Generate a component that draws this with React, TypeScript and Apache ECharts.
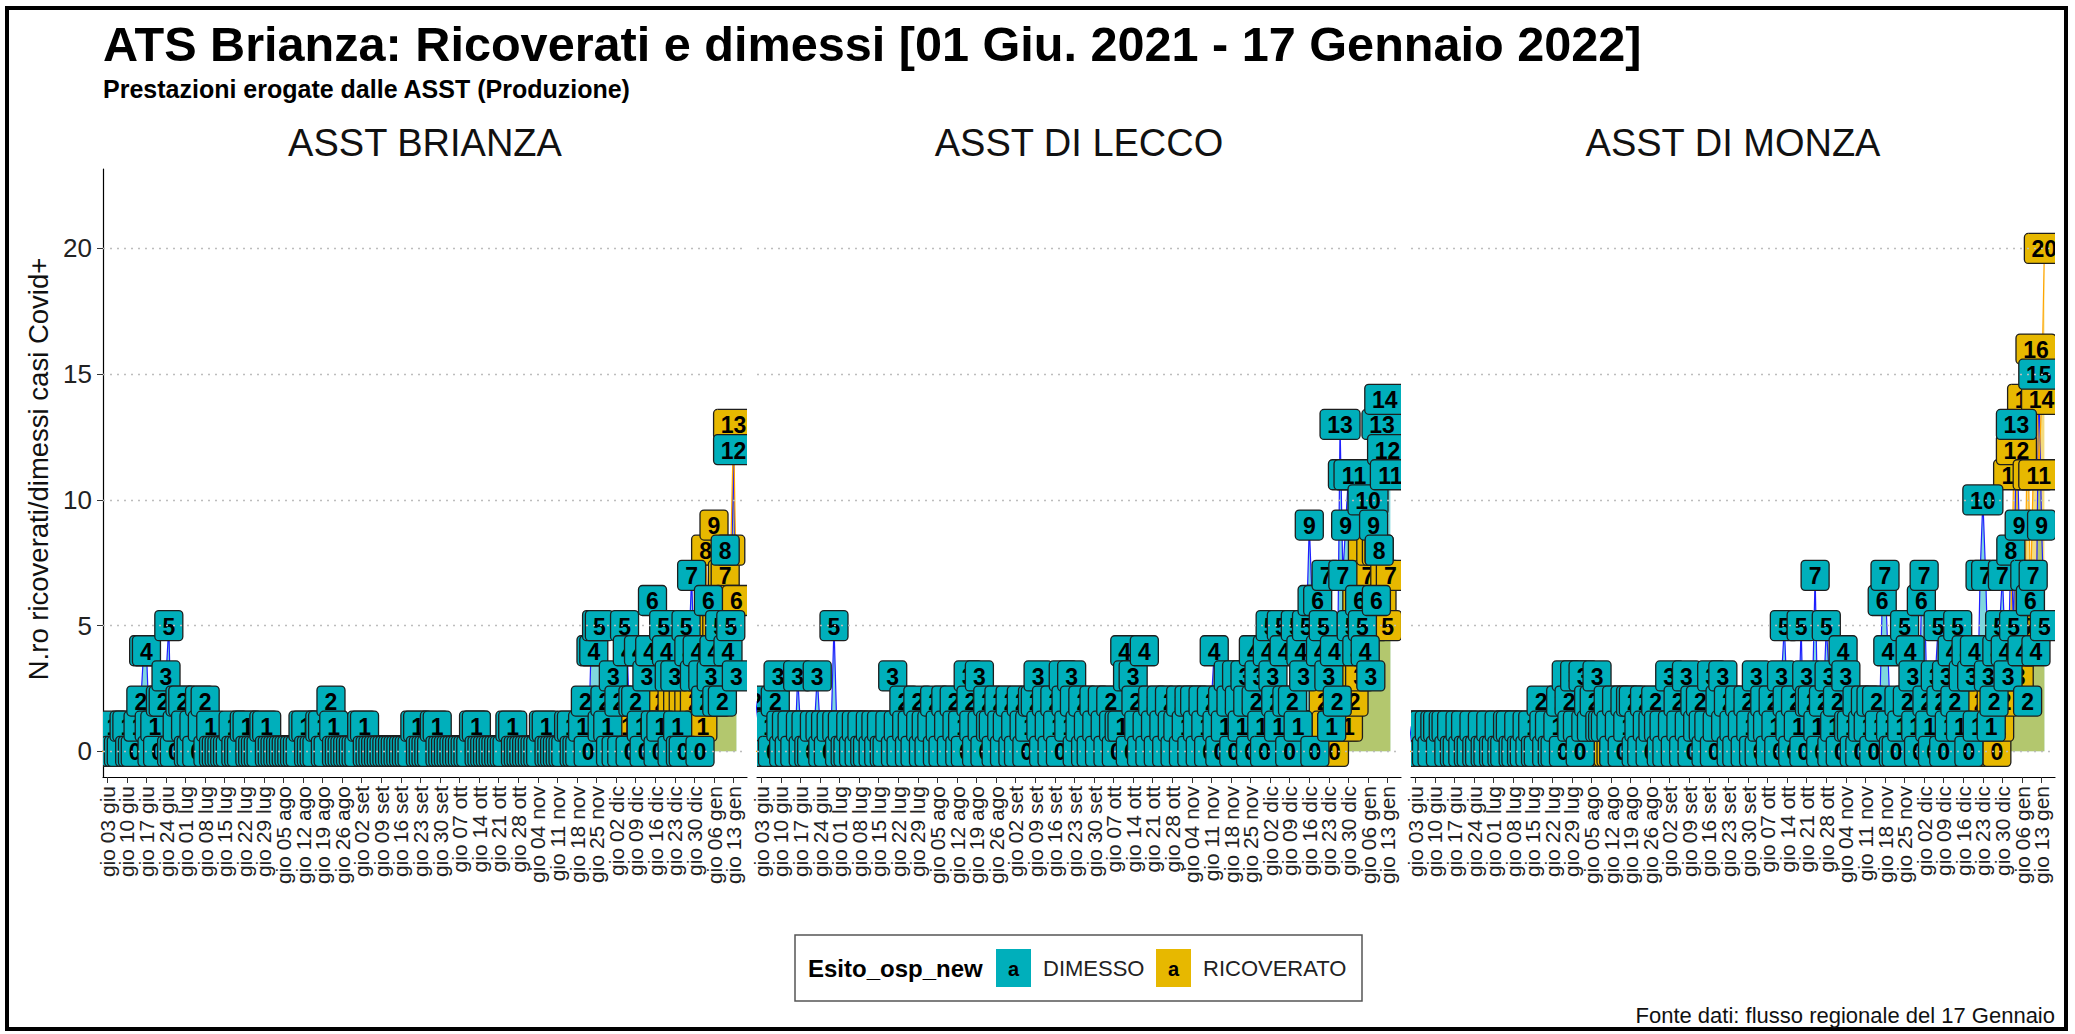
import React, { useEffect, useRef } from 'react';
import * as echarts from 'echarts';

// ---------------- DATA ----------------
// Daily counts, index 0 = 01 giu 2021 ... last = 14 gen 2022
const panelTitles = ['ASST BRIANZA', 'ASST DI LECCO', 'ASST DI MONZA'];
const seriesNames = ['DIMESSO', 'RICOVERATO'];

const tickDays = [2, 9, 16, 23, 30, 37, 44, 51, 58, 65, 72, 79, 86, 93, 100, 107, 114, 121, 128, 135, 142, 149, 156, 163, 170, 177, 184, 191, 198, 205, 212, 219, 226];
const tickLabels = [
  'gio 03 giu', 'gio 10 giu', 'gio 17 giu', 'gio 24 giu',
  'gio 01 lug', 'gio 08 lug', 'gio 15 lug', 'gio 22 lug', 'gio 29 lug',
  'gio 05 ago', 'gio 12 ago', 'gio 19 ago', 'gio 26 ago',
  'gio 02 set', 'gio 09 set', 'gio 16 set', 'gio 23 set', 'gio 30 set',
  'gio 07 ott', 'gio 14 ott', 'gio 21 ott', 'gio 28 ott',
  'gio 04 nov', 'gio 11 nov', 'gio 18 nov', 'gio 25 nov',
  'gio 02 dic', 'gio 09 dic', 'gio 16 dic', 'gio 23 dic', 'gio 30 dic',
  'gio 06 gen', 'gio 13 gen',
];
const yTicks = [0, 5, 10, 15, 20];

const brianzaDimesso = [
  0, 0, 0, 0, 1, 0, 0, 0, 1, 1,
  0, 0, 0, 1, 2, 4, 4, 1, 0, 1,
  0, 2, 2, 3, 5, 0, 0, 1, 2, 2,
  1, 0, 0, 1, 0, 2, 1, 2, 0, 1,
  0, 0, 0, 0, 0, 0, 0, 1, 0, 0,
  0, 1, 1, 0, 0, 0, 0, 0, 1, 1,
  0, 0, 0, 0, 0, 0, 0, 0, 0, 0,
  0, 0, 1, 1, 0, 0, 0, 0, 1, 1,
  0, 0, 2, 1, 0, 0, 0, 0, 0, 0,
  0, 0, 0, 1, 1, 0, 0, 0, 0, 0,
  0, 0, 0, 0, 0, 0, 0, 0, 0, 0,
  0, 0, 1, 1, 0, 0, 0, 0, 0, 1,
  1, 0, 0, 0, 0, 0, 0, 0, 0, 0,
  0, 0, 0, 1, 1, 0, 0, 0, 0, 0,
  0, 0, 0, 0, 0, 0, 1, 1, 0, 0,
  0, 0, 0, 0, 0, 0, 0, 0, 1, 1,
  0, 0, 0, 0, 0, 0, 0, 1, 1, 0,
  0, 0, 1, 2, 0, 4, 4, 5, 5, 1,
  2, 1, 0, 3, 0, 2, 0, 5, 4, 0,
  2, 2, 4, 1, 0, 3, 4, 6, 1, 0,
  1, 5, 4, 3, 0, 3, 1, 0, 0, 5,
  4, 7, 3, 4, 0, 3, 2, 6, 3, 4,
  2, 5, 2, 8, 4, 5, 12, 3,
];
const brianzaRicoverato = [
  0, 0, 0, 0, 0, 0, 0, 0, 0, 0,
  0, 0, 0, 0, 0, 0, 0, 0, 0, 0,
  0, 0, 1, 0, 0, 0, 0, 0, 0, 0,
  0, 0, 0, 0, 0, 0, 0, 1, 0, 0,
  0, 0, 0, 0, 0, 0, 0, 0, 0, 0,
  0, 0, 0, 0, 0, 0, 0, 0, 0, 0,
  0, 0, 0, 0, 0, 0, 0, 0, 0, 0,
  0, 0, 0, 0, 0, 0, 0, 0, 0, 0,
  0, 0, 0, 1, 0, 0, 0, 0, 0, 0,
  0, 0, 0, 0, 0, 0, 0, 0, 0, 0,
  0, 0, 0, 0, 0, 0, 0, 0, 0, 0,
  0, 0, 0, 0, 0, 0, 0, 0, 0, 0,
  0, 0, 0, 0, 0, 0, 0, 0, 0, 0,
  0, 0, 0, 0, 1, 0, 0, 0, 0, 0,
  0, 0, 0, 0, 0, 0, 0, 0, 0, 0,
  0, 0, 0, 0, 0, 0, 0, 0, 0, 0,
  0, 0, 0, 0, 0, 0, 0, 0, 0, 0,
  0, 0, 0, 0, 0, 1, 0, 0, 0, 0,
  0, 0, 1, 0, 0, 0, 0, 0, 1, 0,
  0, 0, 0, 1, 0, 0, 0, 1, 0, 1,
  2, 1, 0, 1, 2, 1, 2, 1, 2, 0,
  2, 1, 2, 1, 3, 1, 8, 5, 4, 9,
  5, 6, 7, 7, 6, 8, 13, 6,
];
const leccoDimesso = [
  2, 1, 0, 1, 0, 1, 0, 2, 3, 1,
  0, 1, 0, 1, 0, 3, 1, 0, 1, 0,
  0, 1, 3, 1, 0, 1, 0, 1, 5, 1,
  0, 1, 0, 0, 1, 0, 1, 0, 1, 0,
  0, 1, 0, 1, 0, 1, 0, 0, 1, 3,
  0, 1, 0, 2, 1, 0, 1, 0, 2, 1,
  0, 1, 0, 1, 2, 0, 1, 0, 2, 1,
  0, 2, 1, 0, 1, 0, 3, 2, 1, 0,
  3, 1, 0, 2, 1, 1, 0, 2, 1, 0,
  1, 2, 0, 1, 0, 2, 1, 0, 1, 2,
  2, 3, 1, 0, 2, 1, 0, 2, 1, 0,
  3, 2, 1, 3, 2, 0, 1, 2, 0, 1,
  0, 2, 1, 0, 2, 1, 0, 2, 1, 0,
  1, 1, 4, 3, 0, 3, 2, 1, 0, 4,
  1, 0, 2, 1, 0, 2, 1, 0, 2, 1,
  0, 1, 2, 0, 1, 2, 0, 2, 1, 0,
  2, 1, 0, 2, 4, 1, 0, 2, 1, 3,
  2, 0, 3, 2, 1, 3, 2, 0, 4, 2,
  3, 1, 0, 4, 5, 3, 2, 1, 5, 4,
  2, 0, 2, 5, 1, 4, 3, 5, 9, 6,
  0, 6, 4, 5, 7, 3, 1, 4, 2, 13,
  7, 9, 11, 5, 11, 4, 6, 5, 4, 10,
  3, 9, 6, 8, 13, 14, 12, 11,
];
const leccoRicoverato = [
  0, 0, 0, 0, 0, 0, 0, 0, 0, 0,
  0, 0, 0, 0, 0, 0, 0, 1, 0, 0,
  0, 0, 0, 0, 0, 0, 0, 0, 0, 0,
  0, 0, 0, 0, 0, 1, 0, 0, 0, 0,
  0, 0, 0, 0, 0, 0, 0, 0, 0, 0,
  0, 0, 0, 0, 0, 0, 0, 1, 0, 0,
  0, 0, 0, 0, 0, 0, 0, 0, 0, 0,
  0, 0, 0, 0, 0, 1, 0, 0, 0, 0,
  0, 0, 0, 0, 0, 0, 0, 0, 0, 0,
  0, 0, 0, 0, 0, 0, 0, 1, 0, 0,
  0, 0, 0, 0, 0, 0, 0, 0, 0, 0,
  0, 0, 0, 0, 1, 0, 0, 0, 0, 0,
  0, 0, 0, 0, 0, 0, 0, 0, 0, 0,
  0, 0, 0, 0, 0, 0, 0, 0, 1, 0,
  0, 0, 0, 0, 0, 0, 0, 0, 0, 0,
  0, 0, 0, 0, 0, 1, 0, 0, 0, 0,
  0, 0, 0, 0, 0, 0, 0, 0, 0, 0,
  0, 0, 0, 0, 0, 0, 1, 0, 0, 0,
  0, 1, 0, 0, 1, 0, 0, 0, 1, 0,
  0, 0, 1, 0, 0, 1, 0, 1, 0, 1,
  0, 1, 0, 2, 1, 0, 1, 0, 1, 1,
  2, 1, 1, 3, 2, 6, 3, 8, 6, 7,
  8, 5, 8, 8, 6, 7, 5, 7,
];
const monzaDimesso = [
  1, 0, 1, 0, 1, 1, 0, 1, 0, 1,
  1, 0, 1, 1, 0, 1, 0, 0, 1, 0,
  1, 0, 0, 1, 0, 0, 1, 0, 0, 1,
  0, 0, 1, 0, 0, 1, 1, 0, 0, 1,
  0, 0, 1, 0, 1, 0, 0, 2, 1, 0,
  1, 0, 0, 1, 2, 0, 3, 2, 1, 3,
  1, 0, 3, 1, 2, 1, 2, 3, 1, 1,
  1, 2, 1, 0, 2, 1, 0, 2, 1, 2,
  2, 0, 1, 0, 2, 1, 0, 1, 2, 1,
  0, 1, 0, 3, 1, 0, 2, 1, 0, 3,
  1, 0, 2, 1, 2, 1, 0, 1, 3, 0,
  1, 2, 3, 1, 2, 0, 1, 0, 2, 1,
  0, 2, 1, 0, 3, 0, 1, 2, 1, 0,
  2, 1, 0, 3, 5, 2, 1, 0, 2, 1,
  5, 0, 3, 2, 2, 7, 1, 0, 2, 5,
  3, 0, 1, 2, 0, 4, 3, 1, 1, 0,
  2, 0, 1, 2, 1, 2, 0, 2, 1, 6,
  7, 4, 1, 0, 0, 2, 1, 5, 2, 4,
  3, 1, 0, 6, 7, 2, 1, 0, 3, 5,
  2, 0, 3, 1, 4, 2, 5, 1, 3, 4,
  0, 3, 4, 1, 7, 10, 7, 3, 1, 2,
  4, 5, 7, 4, 3, 8, 5, 13, 9, 4,
  7, 2, 6, 7, 4, 15, 9, 5,
];
const monzaRicoverato = [
  0, 0, 0, 0, 0, 0, 0, 0, 0, 0,
  0, 0, 0, 0, 0, 0, 0, 0, 0, 0,
  0, 0, 0, 0, 0, 0, 0, 0, 0, 0,
  0, 0, 0, 0, 0, 1, 0, 0, 0, 0,
  0, 0, 0, 0, 0, 0, 0, 0, 0, 0,
  0, 0, 0, 0, 0, 0, 0, 0, 0, 0,
  0, 0, 0, 0, 0, 0, 0, 0, 1, 0,
  0, 0, 0, 0, 0, 0, 0, 0, 0, 0,
  0, 0, 0, 0, 0, 0, 0, 0, 0, 0,
  0, 0, 0, 0, 1, 0, 0, 0, 0, 0,
  0, 0, 0, 0, 0, 0, 0, 0, 0, 0,
  0, 0, 0, 0, 0, 0, 0, 0, 0, 0,
  0, 0, 0, 0, 1, 0, 0, 0, 0, 0,
  0, 0, 0, 0, 0, 0, 0, 0, 0, 0,
  0, 0, 1, 0, 0, 0, 0, 0, 1, 0,
  0, 1, 0, 0, 0, 0, 0, 0, 1, 0,
  0, 0, 1, 0, 0, 0, 1, 0, 0, 0,
  0, 1, 0, 0, 0, 1, 0, 0, 0, 0,
  0, 0, 0, 0, 0, 1, 0, 1, 0, 0,
  1, 0, 0, 2, 0, 1, 0, 1, 0, 1,
  2, 1, 0, 1, 2, 0, 1, 1, 2, 0,
  0, 1, 3, 2, 4, 5, 11, 12, 3, 4,
  5, 14, 6, 11, 16, 11, 14, 20,
];

// ---------------- STYLE / LAYOUT ----------------
const FONT = '"Liberation Sans", Arial, Helvetica, sans-serif';
const TEAL = '#00AFBB';
const GOLD = '#E7B800';
const GRID_LEFTS = [103, 757, 1411];
const GRID_W = 644;
const GRID_TOP = 169;
const GRID_H = 608;
const X_MIN = 0.46;
const X_MAX = 230.8;
const Y_MIN = -1.02;
const Y_MAX = 23.16;
// placeholder positions at the panel edges: ECharts drops the first/last
// axis label when showMin/MaxLabel is false, so the real ticks all stay visible
const X_TICK_VALUES = [X_MIN + 0.01, ...tickDays, X_MAX - 0.01];

const panels = [
  { dim: brianzaDimesso, ric: brianzaRicoverato },
  { dim: leccoDimesso, ric: leccoRicoverato },
  { dim: monzaDimesso, ric: monzaRicoverato },
];

const toPairs = (arr: number[]) => arr.map((v, i) => [i, v]);

function labelRenderer(fill: string) {
  return (_params: any, api: any) => {
    const x = api.value(0);
    const v = api.value(1);
    const p = api.coord([x, v]);
    const t = String(v);
    const w = t.length > 1 ? 40 : 28;
    const h = 30;
    return {
      type: 'group',
      children: [
        {
          type: 'rect',
          shape: { x: p[0] - w / 2, y: p[1] - h / 2, width: w, height: h, r: 4 },
          style: { fill, stroke: '#1e1e1e', lineWidth: 1.3 },
        },
        {
          type: 'text',
          style: {
            x: p[0],
            y: p[1] + 1,
            text: t,
            align: 'center',
            verticalAlign: 'middle',
            fontSize: 23,
            fontWeight: 'bold',
            fontFamily: FONT,
            fill: '#000',
          },
        },
      ],
    };
  };
}

function tickLabelFor(v: number) {
  const idx = tickDays.indexOf(Math.round(v));
  return idx >= 0 && Math.abs(v - tickDays[idx]) < 0.001 ? tickLabels[idx] : '';
}

function buildOption() {
  const grid = GRID_LEFTS.map((left) => ({ left, top: GRID_TOP, width: GRID_W, height: GRID_H, containLabel: false }));
  const xAxis = GRID_LEFTS.map((_, p) => ({
    type: 'value',
    gridIndex: p,
    min: X_MIN,
    max: X_MAX,
    splitLine: { show: false },
    axisLine: { show: true, onZero: false, lineStyle: { color: '#000', width: 1.2 } },
    axisTick: { show: true, customValues: X_TICK_VALUES, length: 6, lineStyle: { color: '#333', width: 1 } },
    axisLabel: {
      customValues: X_TICK_VALUES,
      showMinLabel: false,
      showMaxLabel: false,
      hideOverlap: false,
      rotate: 90,
      fontSize: 21,
      color: '#222',
      fontFamily: FONT,
      margin: 9,
      formatter: (v: number) => tickLabelFor(v),
    },
  }));
  const yAxis = GRID_LEFTS.map((_, p) => ({
    type: 'value',
    gridIndex: p,
    min: Y_MIN,
    max: Y_MAX,
    splitLine: { show: false },
    axisLine: { show: p === 0, onZero: false, lineStyle: { color: '#000', width: 1.2 } },
    axisTick: { show: p === 0, customValues: yTicks, length: 6, lineStyle: { color: '#333', width: 1 } },
    axisLabel: {
      show: p === 0,
      customValues: yTicks,
      fontSize: 26,
      color: '#222',
      fontFamily: FONT,
      margin: 11,
    },
  }));

  const series: any[] = [];
  panels.forEach((pd, p) => {
    const common = { xAxisIndex: p, yAxisIndex: p, silent: true, animation: false };
    series.push({
      ...common,
      type: 'line',
      name: seriesNames[0] + ' area',
      data: toPairs(pd.dim),
      symbol: 'none',
      showSymbol: false,
      lineStyle: { width: 0, opacity: 0 },
      areaStyle: { color: TEAL, opacity: 0.5 },
      z: 1,
      markLine: {
        silent: true,
        symbol: 'none',
        label: { show: false },
        lineStyle: { color: '#bdbdbd', type: [2, 5], width: 1.3 },
        data: yTicks.map((v) => ({ yAxis: v })),
      },
    });
    series.push({
      ...common,
      type: 'line',
      name: seriesNames[1] + ' area',
      data: toPairs(pd.ric),
      symbol: 'none',
      showSymbol: false,
      lineStyle: { width: 0, opacity: 0 },
      areaStyle: { color: GOLD, opacity: 0.5 },
      z: 1,
    });
    series.push({
      ...common,
      type: 'line',
      name: seriesNames[0] + ' line',
      data: toPairs(pd.dim),
      symbol: 'none',
      showSymbol: false,
      lineStyle: { color: '#1f1fff', width: 1.2 },
      z: 2,
    });
    series.push({
      ...common,
      type: 'line',
      name: seriesNames[1] + ' line',
      data: toPairs(pd.ric),
      symbol: 'none',
      showSymbol: false,
      lineStyle: { color: '#FFA500', width: 1.2 },
      z: 2,
    });
    series.push({
      ...common,
      type: 'custom',
      name: seriesNames[1],
      data: toPairs(pd.ric),
      renderItem: labelRenderer(GOLD),
      clip: true,
      z: 3,
    });
    series.push({
      ...common,
      type: 'custom',
      name: seriesNames[0],
      data: toPairs(pd.dim),
      renderItem: labelRenderer(TEAL),
      clip: true,
      z: 4,
    });
  });

  const graphic: any[] = [
    {
      type: 'rect',
      shape: { x: 7, y: 8, width: 2059, height: 1021 },
      style: { fill: 'none', stroke: '#000', lineWidth: 4 },
      silent: true,
    },
    {
      type: 'text',
      x: 103,
      y: 44,
      style: {
        text: 'ATS Brianza: Ricoverati e dimessi [01 Giu. 2021 - 17 Gennaio 2022]',
        fontSize: 48.6,
        fontWeight: 'bold',
        fontFamily: FONT,
        fill: '#000',
        align: 'left',
        verticalAlign: 'middle',
      },
    },
    {
      type: 'text',
      x: 103,
      y: 89,
      style: {
        text: 'Prestazioni erogate dalle ASST (Produzione)',
        fontSize: 25,
        fontWeight: 'bold',
        fontFamily: FONT,
        fill: '#000',
        align: 'left',
        verticalAlign: 'middle',
      },
    },
    ...panelTitles.map((t, p) => ({
      type: 'text',
      x: GRID_LEFTS[p] + GRID_W / 2,
      y: 143,
      style: { text: t, fontSize: 38, fontFamily: FONT, fill: '#111', align: 'center', verticalAlign: 'middle' },
    })),
    {
      type: 'text',
      x: 38,
      y: GRID_TOP + GRID_H / 2 - 4,
      rotation: Math.PI / 2,
      style: {
        text: 'N.ro ricoverati/dimessi casi Covid+',
        fontSize: 27.5,
        fontFamily: FONT,
        fill: '#111',
        align: 'center',
        verticalAlign: 'middle',
      },
    },
    // legend
    {
      type: 'rect',
      shape: { x: 795, y: 935, width: 567, height: 66 },
      style: { fill: '#fff', stroke: '#555', lineWidth: 1.5 },
    },
    {
      type: 'text',
      x: 808,
      y: 968,
      style: { text: 'Esito_osp_new', fontSize: 24, fontWeight: 'bold', fontFamily: FONT, fill: '#000', align: 'left', verticalAlign: 'middle' },
    },
    { type: 'rect', shape: { x: 996, y: 949, width: 35, height: 38 }, style: { fill: TEAL } },
    {
      type: 'text',
      x: 1013.5,
      y: 969,
      style: { text: 'a', fontSize: 20, fontWeight: 'bold', fontFamily: FONT, fill: '#000', align: 'center', verticalAlign: 'middle' },
    },
    {
      type: 'text',
      x: 1043,
      y: 968,
      style: { text: seriesNames[0], fontSize: 22, fontFamily: FONT, fill: '#222', align: 'left', verticalAlign: 'middle' },
    },
    { type: 'rect', shape: { x: 1156, y: 949, width: 35, height: 38 }, style: { fill: GOLD } },
    {
      type: 'text',
      x: 1173.5,
      y: 969,
      style: { text: 'a', fontSize: 20, fontWeight: 'bold', fontFamily: FONT, fill: '#000', align: 'center', verticalAlign: 'middle' },
    },
    {
      type: 'text',
      x: 1203,
      y: 968,
      style: { text: seriesNames[1], fontSize: 22, fontFamily: FONT, fill: '#222', align: 'left', verticalAlign: 'middle' },
    },
    {
      type: 'text',
      x: 2055,
      y: 1015,
      style: {
        text: 'Fonte dati: flusso regionale del 17 Gennaio',
        fontSize: 22,
        fontFamily: FONT,
        fill: '#111',
        align: 'right',
        verticalAlign: 'middle',
      },
    },
  ];

  return {
    animation: false,
    backgroundColor: '#ffffff',
    textStyle: { fontFamily: FONT },
    grid,
    xAxis,
    yAxis,
    series,
    graphic,
  };
}

export default function App() {
  const ref = useRef<HTMLDivElement | null>(null);
  useEffect(() => {
    if (!ref.current) return;
    const chart = echarts.init(ref.current, undefined, { renderer: 'svg' });
    chart.setOption(buildOption() as any);
    return () => {
      chart.dispose();
    };
  }, []);
  return (
    <div
      ref={ref}
      style={{ position: 'absolute', left: 0, top: 0, width: 2075, height: 1034, background: '#fff' }}
    />
  );
}
